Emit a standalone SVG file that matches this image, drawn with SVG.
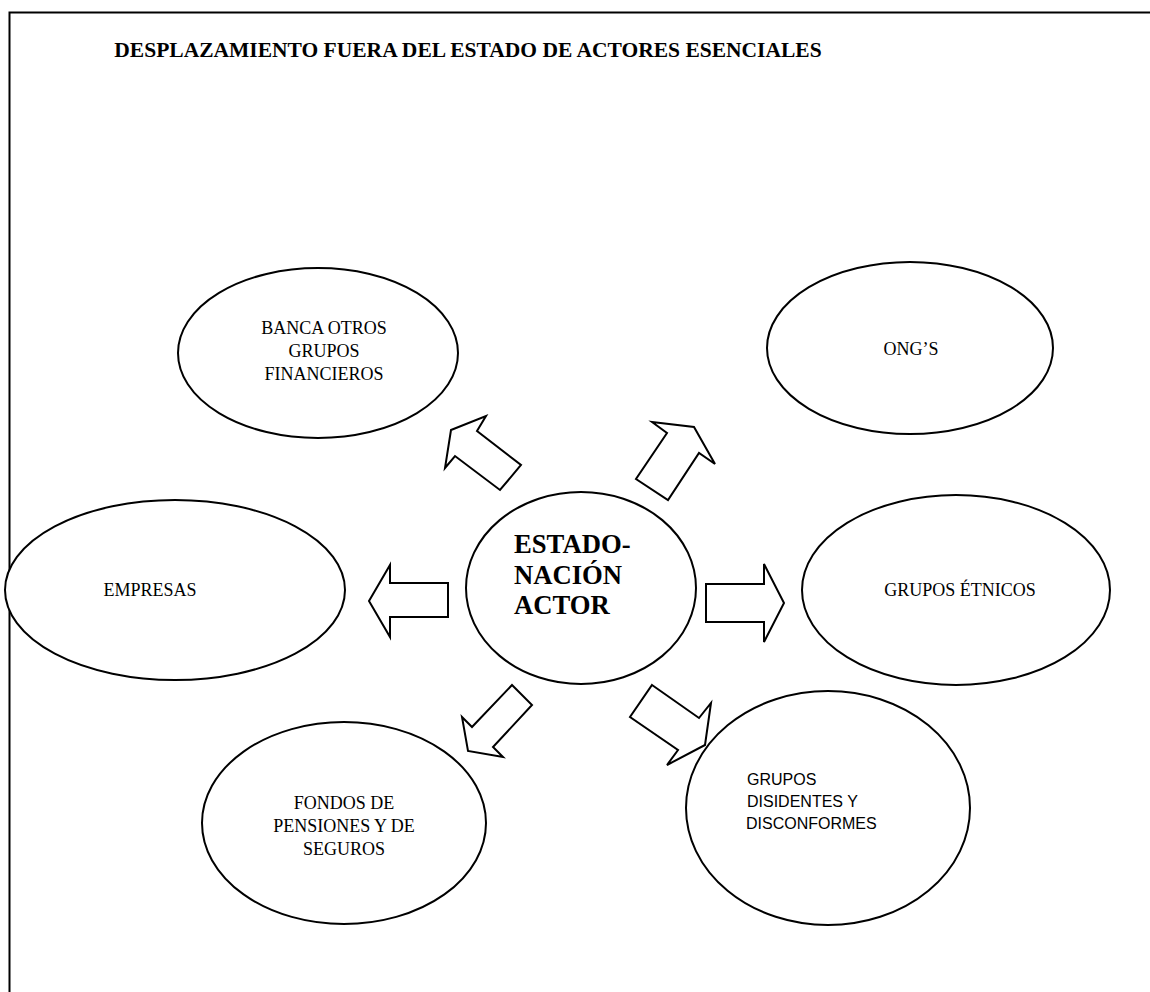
<svg xmlns="http://www.w3.org/2000/svg" width="1150" height="992" viewBox="0 0 1150 992">
<style>
.frame{fill:none;stroke:#000;stroke-width:2}
.node{fill:#fff;stroke:#000;stroke-width:2}
.arr{fill:#fff;stroke:#000;stroke-width:2;stroke-linejoin:miter}
.t{font-family:"Liberation Serif","Times New Roman",serif;font-size:18px;fill:#000;text-anchor:middle}
.s{font-family:"Liberation Sans",Arial,sans-serif;font-size:16px;fill:#000}
.title{font-family:"Liberation Serif","Times New Roman",serif;font-size:21.5px;font-weight:bold;fill:#000;text-anchor:middle}
.c{font-family:"Liberation Serif","Times New Roman",serif;font-size:26.67px;font-weight:bold;fill:#000}
</style>
<rect width="1150" height="992" fill="#fff"/>
<path class="frame" d="M9.5,992 V12.5 H1150"/>
<text class="title" x="468" y="57">DESPLAZAMIENTO FUERA DEL ESTADO DE ACTORES ESENCIALES</text>
<g id="banca">
<ellipse class="node" cx="318" cy="353" rx="140" ry="85"/>
<text class="t" x="324" y="334">BANCA OTROS</text>
<text class="t" x="324" y="357">GRUPOS</text>
<text class="t" x="324" y="380">FINANCIEROS</text>
</g>
<g id="ongs">
<ellipse class="node" cx="910" cy="348" rx="143" ry="86"/>
<text class="t" x="911" y="355">ONG’S</text>
</g>
<g id="empresas">
<ellipse class="node" cx="175" cy="590" rx="170" ry="90"/>
<text class="t" x="150" y="596">EMPRESAS</text>
</g>
<g id="estado">
<ellipse class="node" cx="581" cy="588" rx="115" ry="96"/>
<text class="c" x="514" y="553">ESTADO-</text>
<text class="c" x="514" y="584">NACIÓN</text>
<text class="c" x="514" y="614">ACTOR</text>
</g>
<g id="etnicos">
<ellipse class="node" cx="956" cy="590" rx="154" ry="95"/>
<text class="t" x="960" y="596">GRUPOS ÉTNICOS</text>
</g>
<g id="fondos">
<ellipse class="node" cx="344" cy="823" rx="142" ry="101"/>
<text class="t" x="344" y="809">FONDOS DE</text>
<text class="t" x="344" y="832">PENSIONES Y DE</text>
<text class="t" x="344" y="855">SEGUROS</text>
</g>
<g id="disidentes">
<ellipse class="node" cx="828" cy="808" rx="142" ry="117"/>
<text class="s" x="747" y="785">GRUPOS</text>
<text class="s" x="747" y="807">DISIDENTES Y</text>
<text class="s" x="746" y="829">DISCONFORMES</text>
</g>
<g id="connectors">
<polygon class="arr" points="451,430 486,416 477,431 521,465 500,490 455,456 445,468"/>
<polygon class="arr" points="652,422 694,427 715,464 699,453 668,500 636,479 667,433"/>
<polygon class="arr" points="448,583 390,583 390,565 369,601 390,637 390,617 448,617"/>
<polygon class="arr" points="706,584 764,584 764,564 784,603 764,642 764,622 706,622"/>
<polygon class="arr" points="512,685 532,705 493,747 503,757 468,751 462,717 472,727"/>
<polygon class="arr" points="652,685 699,718 711,703 705,745 667,765 678,750 630,717"/>
</g>
</svg>
